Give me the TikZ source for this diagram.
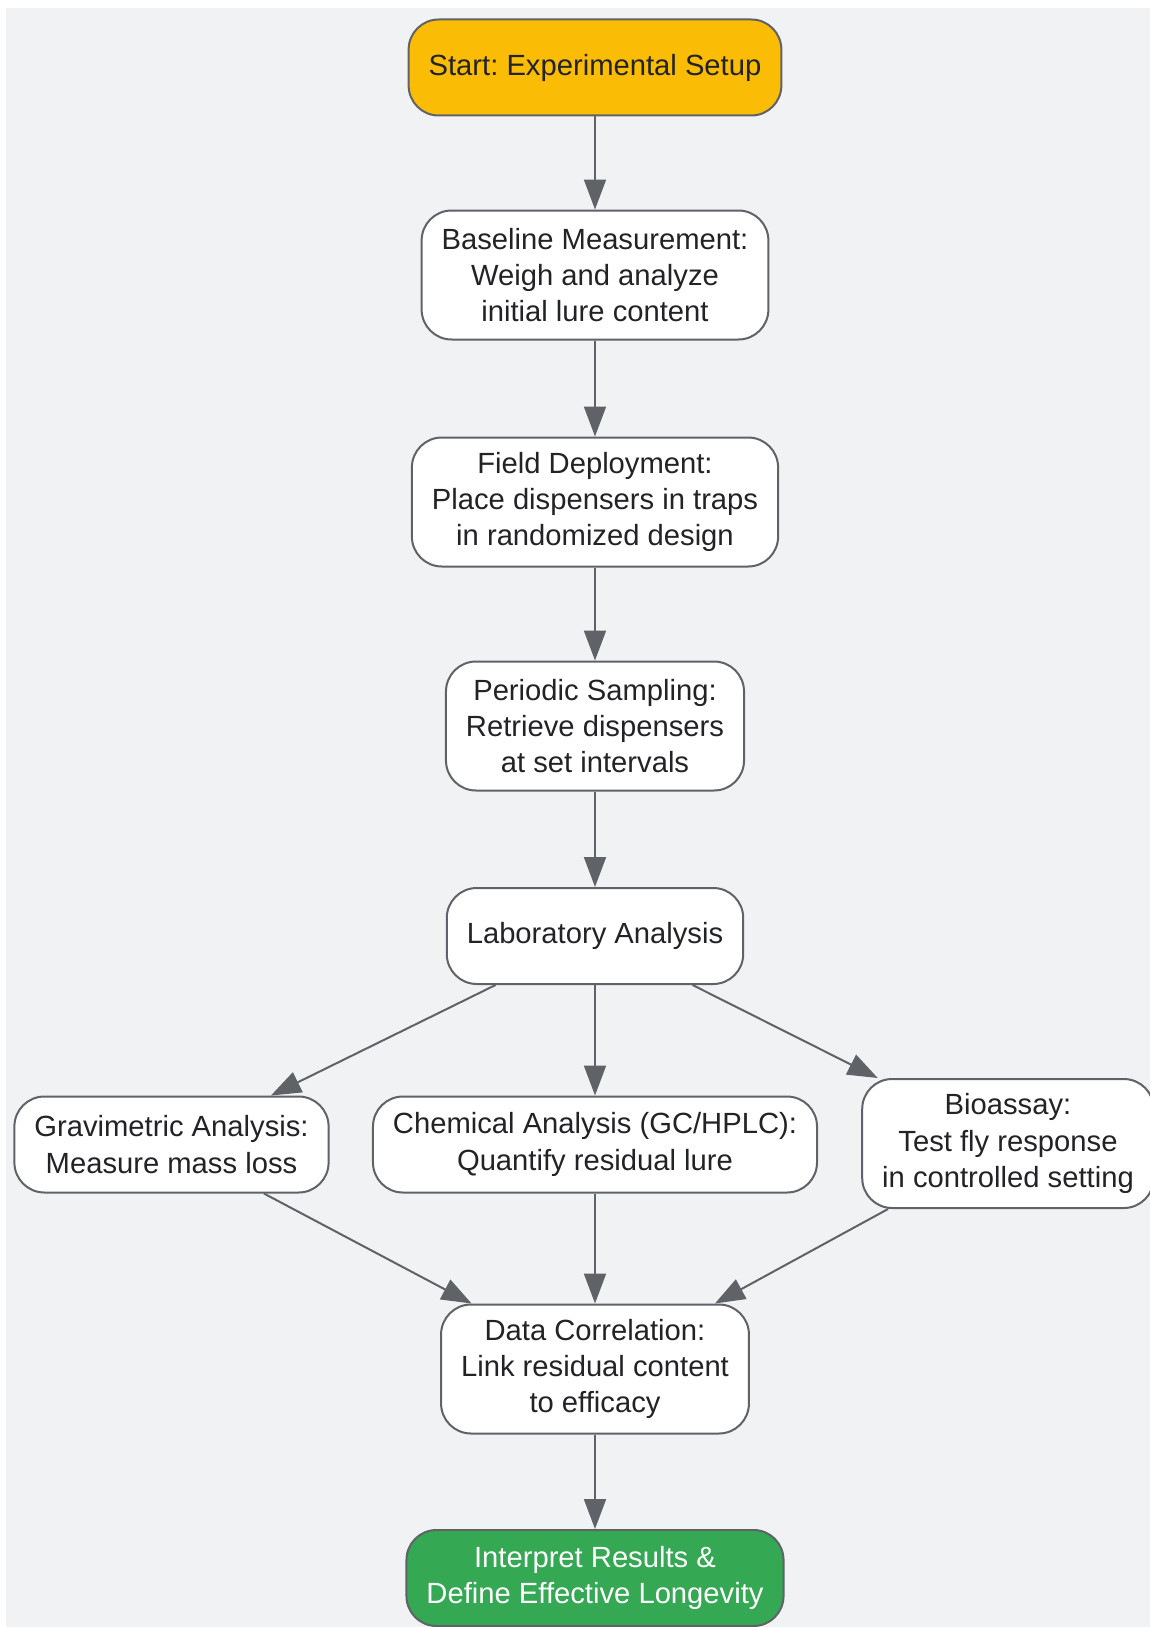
\documentclass[tikz,border=0pt]{standalone}
\usepackage{fontspec}
\setmainfont{Liberation Sans}
\frenchspacing
\usetikzlibrary{arrows.meta}
\definecolor{bggray}{HTML}{F1F2F4}
\definecolor{edgegray}{HTML}{5F6368}
\definecolor{inkgray}{HTML}{222326}
\definecolor{startyellow}{HTML}{FBBC05}
\definecolor{endgreen}{HTML}{34A853}
\begin{document}
\begin{tikzpicture}[x=0.5pt, y=-0.5pt,
    proc/.style={draw=edgegray, line width=1pt, fill=white, rounded corners=15pt,
      text=inkgray, align=center, inner xsep=10pt, inner ysep=4pt, minimum height=48pt,
      font=\fontsize{14.6pt}{18.2pt}\selectfont},
    tallproc/.style={proc, minimum height=64.5pt},
    startnode/.style={proc, fill=startyellow},
    endnode/.style={proc, fill=endgreen, text=white},
    link/.style={draw=edgegray, line width=1pt, -{Triangle[length=15pt, width=11pt]}}]
      \useasboundingbox (0,0) rectangle (1150,1627);
      \fill[bggray] (6,8) rectangle (1150,1627);
      \node[startnode] (start) at (595,67.5) {Start: Experimental Setup};
      \node[tallproc] (base) at (595,275) {Baseline Measurement:\\Weigh and analyze\\initial lure content};
      \node[tallproc] (field) at (595,502) {Field Deployment:\\Place dispensers in traps\\in randomized design};
      \node[tallproc] (sample) at (595,726) {Periodic Sampling:\\Retrieve dispensers\\at set intervals};
      \node[proc] (lab) at (595,936) {Laboratory Analysis};
      \node[proc] (grav) at (171.5,1144.5) {Gravimetric Analysis:\\Measure mass loss};
      \node[proc] (chem) at (595,1144.5) {Chemical Analysis (GC/HPLC):\\Quantify residual lure};
      \node[tallproc] (bio) at (1008,1143.5) {Bioassay:\\Test fly response\\in controlled setting};
      \node[tallproc] (corr) at (595,1369) {Data Correlation:\\Link residual content\\to efficacy};
      \node[endnode] (interp) at (595,1578) {Interpret Results \&\\Define Effective Longevity};
      \draw[link] (start) -- (base);
      \draw[link] (base) -- (field);
      \draw[link] (field) -- (sample);
      \draw[link] (sample) -- (lab);
      \draw[link] (lab) -- (grav);
      \draw[link] (lab) -- (chem);
      \draw[link] (lab) -- (bio);
      \draw[link] (grav) -- (corr);
      \draw[link] (chem) -- (corr);
      \draw[link] (bio) -- (corr);
      \draw[link] (corr) -- (interp);
    \end{tikzpicture}
\end{document}
